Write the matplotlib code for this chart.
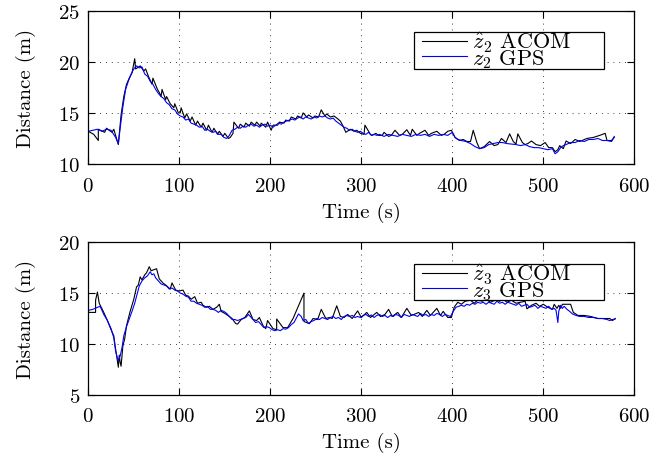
import matplotlib
matplotlib.use("Agg")
import matplotlib.pyplot as plt
from matplotlib.patches import Rectangle

plt.rcParams['font.family'] = ['cmr10', 'DejaVu Serif']
plt.rcParams['mathtext.fontset'] = 'cm'
plt.rcParams['axes.formatter.use_mathtext'] = True

# ---------------- top panel: z2 ----------------
t_gps_top = [0, 5, 10, 15, 20, 25, 30, 33, 35, 38, 41, 44, 47, 50, 53, 56, 59, 62, 65, 68,
             71, 74, 77, 80, 83, 86, 89, 92, 95, 98, 101, 104, 107, 110, 113, 116, 119, 122,
             125, 128, 131, 134, 137, 140, 143, 146, 149, 152, 155, 158, 161, 164, 167, 170,
             173, 176, 179, 182, 185, 188, 191, 194, 197, 200, 203, 206, 209, 212, 215, 218,
             221, 224, 227, 230, 233, 236, 239, 242, 245, 248, 251, 254, 257, 260, 263, 266,
             269, 272, 275, 278, 281, 284, 287, 290, 293, 296, 299, 302, 305, 308, 311, 314,
             317, 320, 325, 330, 335, 340, 345, 350, 355, 360, 365, 370, 375, 380, 385, 390,
             395, 400, 403, 406, 410, 415, 420, 425, 430, 435, 440, 445, 450, 455, 460, 465,
             470, 475, 480, 485, 490, 495, 500, 505, 510, 513, 516, 519, 522, 525, 530, 535,
             540, 545, 550, 555, 560, 565, 570, 575, 578]
z2_gps = [13.2, 13.3, 13.4, 13.2, 13.4, 13.3, 12.6, 12.0, 13.5, 15.6, 17.3, 18.1, 18.8, 19.3,
          19.6, 19.4, 19.5, 18.8, 18.6, 18.1, 17.8, 17.3, 16.9, 16.6, 16.4, 16.0, 15.8, 15.4,
          15.3, 14.9, 14.7, 14.6, 14.3, 14.4, 14.0, 13.9, 13.8, 13.6, 13.7, 13.3, 13.4, 13.2,
          13.1, 13.2, 12.9, 12.9, 12.6, 12.5, 12.8, 13.3, 13.4, 13.6, 13.5, 13.7, 13.6, 13.8,
          13.9, 13.7, 13.8, 13.6, 13.8, 13.9, 13.7, 13.8, 13.6, 13.8, 14.0, 13.9, 14.1, 14.2,
          14.3, 14.4, 14.3, 14.5, 14.6, 14.4, 14.6, 14.5, 14.4, 14.6, 14.5, 14.7, 14.6, 14.7,
          14.5, 14.4, 14.5, 14.2, 14.0, 13.8, 13.6, 13.5, 13.3, 13.4, 13.2, 13.1, 13.2, 13.0,
          12.9, 13.1, 12.8, 12.9, 12.8, 12.9, 12.7, 12.9, 12.8, 12.7, 12.9, 12.8, 12.7, 12.9,
          12.8, 12.9, 12.7, 12.9, 12.8, 12.9, 12.8, 13.1, 12.6, 12.4, 12.3, 12.2, 12.0, 11.7,
          11.5, 11.6, 11.9, 12.0, 12.1, 12.1, 12.0, 11.95, 11.9, 11.8, 11.9, 11.7, 11.6, 11.6,
          11.5, 11.4, 11.5, 11.0, 11.2, 11.6, 11.8, 11.9, 12.1, 12.1, 12.3, 12.2, 12.4, 12.4,
          12.5, 12.3, 12.3, 12.2, 12.7]

t_acom_top = [0, 6, 11, 11, 18, 20, 26, 28, 33, 36, 39, 42, 45, 48, 51, 52, 57, 61, 63, 66,
              70, 71, 76, 78, 80, 81, 85, 86, 90, 94, 95, 99, 101, 102, 106, 108, 112, 114,
              118, 120, 124, 126, 130, 132, 136, 138, 142, 144, 148, 150, 154, 156, 159, 160,
              165, 167, 171, 173, 177, 179, 183, 185, 189, 190, 195, 197, 201, 203, 208, 210,
              215, 217, 221, 223, 228, 230, 234, 236, 240, 242, 247, 249, 253, 256, 260, 262,
              266, 270, 273, 277, 280, 283, 288, 292, 295, 299, 303, 304, 310, 312, 316, 319,
              323, 325, 330, 333, 337, 342, 345, 350, 354, 356, 361, 364, 370, 374, 377, 383,
              388, 391, 395, 399, 403, 408, 412, 416, 420, 423, 427, 430, 435, 441, 446, 450,
              454, 459, 463, 467, 470, 472, 477, 480, 483, 487, 492, 497, 502, 506, 510, 513,
              516, 518, 522, 525, 530, 535, 540, 548, 555, 562, 568, 570, 575, 578]
z2_acom = [13.2, 12.9, 12.3, 13.4, 13.1, 13.5, 13.1, 13.4, 11.9, 14.8, 16.6, 17.8, 18.4, 18.9,
           20.3, 19.3, 19.6, 19.1, 19.3, 18.6, 17.8, 18.4, 17.3, 17.0, 16.6, 17.3, 16.3, 16.6,
           15.9, 15.5, 15.9, 15.0, 15.0, 15.5, 14.5, 14.9, 14.2, 14.6, 13.8, 14.2, 13.6, 14.0,
           13.3, 13.8, 13.1, 13.5, 12.9, 13.2, 12.7, 13.0, 12.5, 12.6, 13.0, 14.1, 13.5, 13.9,
           13.6, 14.0, 13.7, 14.1, 13.8, 14.1, 13.7, 14.0, 13.6, 14.1, 13.3, 13.8, 13.8, 14.1,
           14.0, 14.3, 14.2, 14.6, 14.4, 14.7, 14.5, 15.0, 14.6, 14.8, 14.5, 14.7, 14.6, 15.3,
           14.7, 14.9, 14.6, 14.7, 14.5, 14.2, 13.7, 13.1, 13.4, 13.2, 13.3, 13.0, 12.9, 13.8,
           12.9, 12.8, 13.0, 12.8, 12.8, 13.1, 12.7, 12.8, 13.3, 12.8, 12.9, 13.35, 12.8, 13.4,
           12.8, 13.0, 13.3, 12.8, 13.0, 13.2, 12.8, 12.9, 13.2, 13.3, 12.6, 12.3, 12.4, 12.2,
           12.2, 13.3, 12.1, 11.5, 11.7, 12.2, 11.8, 11.9, 12.5, 12.1, 12.95, 12.2, 11.95, 12.95,
           12.1, 11.9, 12.0, 12.25, 11.9, 11.8, 12.1, 11.6, 11.6, 11.2, 11.4, 11.8, 11.5, 12.25,
           12.0, 12.4, 12.2, 12.5, 12.6, 12.8, 13.0, 12.3, 12.3, 12.6]

# ---------------- bottom panel: z3 ----------------
t_gps_bot = [0, 5, 10, 13, 17, 21, 25, 28, 30, 32, 33, 35, 37, 39, 42, 45, 48, 51, 54, 56,
             59, 62, 65, 68, 70, 72, 74, 77, 80, 83, 86, 89, 92, 95, 98, 101, 104, 107, 110,
             113, 116, 119, 122, 125, 128, 131, 134, 137, 140, 143, 146, 149, 152, 155, 158,
             161, 164, 167, 170, 173, 176, 178, 181, 184, 187, 190, 193, 196, 199, 202, 205,
             208, 211, 214, 217, 220, 223, 226, 229, 231, 234, 236, 239, 242, 245, 248, 251,
             254, 257, 260, 263, 266, 269, 272, 275, 278, 281, 284, 287, 290, 293, 296, 299,
             302, 305, 308, 311, 314, 317, 320, 323, 326, 329, 332, 335, 338, 341, 344, 347,
             350, 353, 356, 359, 362, 365, 368, 371, 374, 377, 380, 383, 386, 389, 392, 395,
             398, 401, 404, 407, 410, 413, 416, 419, 422, 425, 428, 431, 434, 437, 440, 443,
             446, 449, 452, 455, 458, 461, 464, 467, 470, 473, 476, 479, 482, 485, 488, 491,
             494, 497, 500, 503, 506, 509, 512, 514, 516, 517, 519, 521, 523, 526, 529, 532,
             536, 540, 545, 550, 555, 560, 565, 570, 573, 576, 579]
z3_gps = [13.3, 13.4, 13.6, 13.7, 12.9, 12.3, 11.5, 10.6, 9.3, 8.6, 8.35, 8.8, 9.6, 10.8, 11.7,
          12.45, 13.2, 14.0, 15.0, 15.7, 16.2, 16.5, 16.7, 17.1, 16.8, 16.9, 16.5, 16.2, 15.9,
          15.8, 15.7, 15.4, 15.5, 15.3, 15.2, 15.0, 14.9, 14.7, 14.6, 14.2, 14.2, 14.0, 13.9,
          13.8, 13.6, 13.7, 13.4, 13.4, 13.3, 13.1, 13.3, 13.2, 13.0, 12.7, 12.4, 12.4, 12.3,
          12.4, 12.5, 12.6, 12.9, 12.7, 12.4, 12.1, 12.2, 11.9, 11.6, 11.7, 11.6, 11.4, 11.3,
          11.4, 11.3, 11.5, 11.45, 11.6, 11.9, 12.1, 12.6, 12.95, 12.7, 12.3, 12.4, 12.0, 12.2,
          12.3, 12.5, 12.4, 12.6, 12.5, 12.4, 12.6, 12.7, 12.5, 12.6, 12.4, 12.7, 12.8, 12.7,
          12.8, 12.6, 12.7, 12.6, 12.8, 12.9, 12.7, 12.85, 12.6, 12.8, 12.9, 12.7, 12.8, 12.6,
          12.8, 12.7, 12.9, 12.8, 12.6, 12.9, 12.8, 12.7, 12.9, 12.8, 12.7, 13.0, 12.8, 12.9,
          12.7, 12.9, 12.8, 13.0, 12.9, 12.7, 12.9, 12.8, 12.7, 13.2, 13.6, 13.7, 13.8, 13.7,
          13.9, 13.8, 14.0, 13.9, 14.1, 14.0, 14.1, 13.9, 14.1, 14.0, 13.9, 14.2, 14.0, 14.1,
          13.9, 14.1, 14.0, 13.9, 13.8, 14.0, 13.7, 13.8, 13.9, 13.6, 13.7, 13.8, 13.5, 13.7,
          13.6, 13.5, 13.7, 13.4, 13.5, 13.3, 12.1, 13.2, 13.8, 13.5, 13.7, 13.4, 13.2, 12.95,
          12.8, 12.7, 12.7, 12.6, 12.6, 12.5, 12.5, 12.4, 12.3, 12.4, 12.45]

t_acom_bot = [0, 8, 8, 10, 12, 17, 21, 25, 28, 30, 33, 34, 35, 36, 38, 40, 42, 46, 50, 53,
              55, 57, 59, 62, 64, 67, 69, 72, 75, 78, 82, 85, 90, 92, 96, 100, 104, 107, 110,
              113, 117, 120, 124, 126, 130, 133, 137, 141, 144, 146, 150, 155, 158, 162, 164,
              168, 172, 177, 181, 185, 188, 192, 195, 197, 203, 207, 207, 214, 219, 225, 237,
              237, 243, 247, 252, 256, 261, 265, 268, 273, 277, 281, 285, 290, 296, 300, 306,
              310, 317, 321, 326, 330, 334, 340, 344, 350, 355, 358, 363, 367, 372, 376, 383,
              387, 390, 395, 399, 402, 406, 410, 414, 420, 424, 428, 433, 437, 442, 447, 452,
              456, 460, 465, 470, 475, 480, 482, 487, 492, 496, 500, 505, 510, 512, 515, 517,
              519, 521, 524, 530, 533, 538, 545, 552, 560, 567, 573, 576, 579]
z3_acom = [13.1, 13.1, 14.3, 15.1, 14.0, 13.1, 12.3, 11.4, 10.8, 9.5, 7.7, 8.9, 8.2, 7.8, 9.8,
           10.5, 11.8, 13.2, 14.4, 15.6, 15.8, 16.6, 16.3, 16.8, 17.0, 17.6, 17.2, 17.3, 17.4,
           16.4, 16.0, 15.8, 15.4, 16.0, 15.3, 15.2, 15.3, 14.8, 14.7, 14.4, 14.65, 14.0, 14.1,
           13.8, 13.6, 13.7, 13.4, 13.6, 13.9, 13.2, 13.0, 12.7, 12.5, 12.0, 11.95, 12.4, 12.6,
           13.25, 12.4, 12.3, 12.6, 11.8, 11.5, 12.3, 11.5, 11.4, 12.45, 11.6, 11.6, 12.5, 15.0,
           12.2, 12.0, 12.5, 12.4, 13.4, 12.5, 12.6, 12.5, 13.75, 12.7, 12.6, 12.9, 12.5, 13.25,
           12.6, 13.1, 12.6, 13.1, 12.7, 12.9, 13.4, 12.7, 13.1, 12.6, 13.5, 12.8, 12.9, 13.1,
           12.7, 13.3, 12.8, 13.5, 12.8, 13.2, 12.6, 12.6, 13.6, 14.1, 13.9, 14.2, 14.3, 14.0,
           14.3, 14.2, 14.4, 14.1, 14.3, 14.2, 14.4, 14.1, 14.3, 14.0, 14.1, 14.2, 13.45, 13.8,
           14.0, 13.7, 13.9, 13.6, 13.4, 13.9, 13.5, 13.8, 13.5, 13.9, 13.9, 13.9, 13.1, 12.8,
           12.8, 12.7, 12.5, 12.5, 12.5, 12.3, 12.5]

x_ticks = [0, 100, 200, 300, 400, 500, 600]
y_ticks_top = [10, 15, 20, 25]
y_ticks_bot = [5, 10, 15, 20]

W, H = 665, 460
fig = plt.figure(figsize=(W / 100, H / 100), dpi=100)
ax1 = fig.add_axes([88.3 / W, 1 - 165.0 / H, 546 / W, 153.3 / H])
ax2 = fig.add_axes([88.3 / W, 1 - 395.7 / H, 546 / W, 152.4 / H])

FS = 15
LFS = 16


def style(ax, yticks, box_y0, box_y1):
    ax.set_xlim(0, 600)
    ax.set_ylim(yticks[0], yticks[-1])
    ax.set_xticks(x_ticks)
    ax.set_yticks(yticks)
    ax.tick_params(direction='in', top=True, right=True, length=5, width=0.8,
                   labelsize=FS)
    ax.tick_params(axis='x', pad=9)
    ax.tick_params(axis='y', pad=6)
    for s in ax.spines.values():
        s.set_linewidth(0.9)
    ax.grid(True, color='black', linestyle=(0, (1, 6)), linewidth=0.6)
    ax.set_xlabel('Time (s)', fontsize=FS, labelpad=5)
    ax.set_ylabel('Distance (m)', fontsize=FS, labelpad=16)
    # legend box (MATLAB-like, wider than its content)
    ax.add_patch(Rectangle((0.5965, box_y0), 0.945 - 0.5965, box_y1 - box_y0,
                           transform=ax.transAxes, facecolor='white',
                           edgecolor='black', linewidth=0.9, zorder=4))
    ax.legend(loc='upper left', bbox_to_anchor=(0.612, box_y1 + 0.012), borderaxespad=0,
              fontsize=LFS, frameon=False, handlelength=2.0,
              labelspacing=-0.32, borderpad=0.0, handletextpad=0.25)


ax1.plot(t_acom_top, z2_acom, color='black', lw=0.8, label=r'$\hat{z}_2$ ACOM')
ax1.plot(t_gps_top, z2_gps, color='#0000ff', lw=0.8, label=r'$z_2$ GPS')
style(ax1, y_ticks_top, 0.622, 0.860)

ax2.plot(t_acom_bot, z3_acom, color='black', lw=0.8, label=r'$\hat{z}_3$ ACOM')
ax2.plot(t_gps_bot, z3_gps, color='#0000ff', lw=0.8, label=r'$z_3$ GPS')
style(ax2, y_ticks_bot, 0.621, 0.858)

fig.savefig('out.png', dpi=100)
